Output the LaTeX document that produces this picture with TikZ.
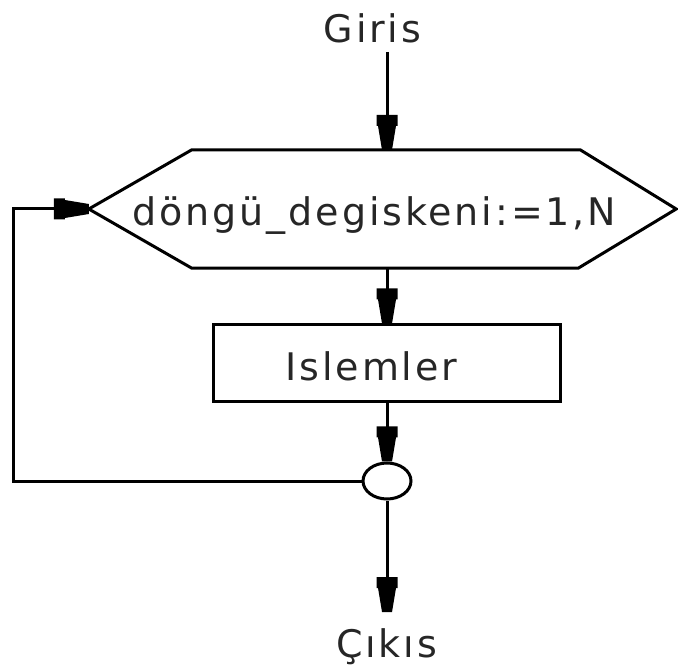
\documentclass[tikz,border=0pt]{standalone}
\usepackage{fontspec}
\setmainfont[LetterSpace=7.6]{DejaVu Sans}
\usetikzlibrary{arrows.meta,shapes.geometric}
\pgfdeclarearrow{
  name = Trap,
  setup code = {
    \pgfarrowssettipend{0pt}
    \pgfarrowssetlineend{-20pt}
    \pgfarrowssetvisualbackend{-35pt}
    \pgfarrowssetbackend{-35pt}
    \pgfarrowshullpoint{0pt}{5pt}
    \pgfarrowshullpoint{0pt}{-5pt}
    \pgfarrowshullpoint{-35pt}{10.5pt}
    \pgfarrowshullpoint{-35pt}{-10.5pt}
  },
  drawing code = {
    \pgfpathmoveto{\pgfqpoint{0pt}{5pt}}
    \pgfpathlineto{\pgfqpoint{-24pt}{9pt}}
    \pgfpathlineto{\pgfqpoint{-24pt}{10.5pt}}
    \pgfpathlineto{\pgfqpoint{-35pt}{10.5pt}}
    \pgfpathlineto{\pgfqpoint{-35pt}{-10.5pt}}
    \pgfpathlineto{\pgfqpoint{-24pt}{-10.5pt}}
    \pgfpathlineto{\pgfqpoint{-24pt}{-9pt}}
    \pgfpathlineto{\pgfqpoint{0pt}{-5pt}}
    \pgfpathclose
    \pgfusepathqfill
  }
}
\begin{document}
\begin{tikzpicture}[x=1pt,y=1pt,
  lbl/.style={font=\fontsize{38}{44}\selectfont, text=black!85, inner sep=0pt, anchor=base},
  line/.style={line width=3pt},
  arr/.style={line, -{Trap}},
  box/.style={draw, line width=3pt, minimum width=347pt, minimum height=77pt, inner sep=0pt},
  conn/.style={draw, ellipse, line width=3pt, minimum width=48pt, minimum height=36pt, inner sep=0pt}]
\useasboundingbox (0,0) rectangle (678,-668);
\node[lbl] (giris) at (372.5,-43) {Giris};
\node[minimum width=587pt, minimum height=118pt, inner sep=0pt] (hex) at (382.5,-209) {};
\draw[line, line join=miter] (hex.west) -- ([xshift=103pt]hex.north west) -- ([xshift=-96pt]hex.north east)
  -- (hex.east) -- ([xshift=-98pt]hex.south east) -- ([xshift=103pt]hex.south west) -- cycle;
\node[lbl] (hextext) at (374.5,-226) {döngü\_degiskeni:=1,N};
\node[box] (islem) at (387,-363.5) {};
\node[lbl] (islemtext) at (371.5,-381) {Islemler};
\node[conn] (conn) at (387,-481) {};
\node[lbl] (cikis) at (386.5,-657) {Çıkıs};
\coordinate (g1) at (387,-52);
\coordinate (c2) at (387,-612);
\coordinate (lp) at (13,-481);
\draw[arr] (g1) -- (g1 |- hex.north);
\draw[arr] (islem.north |- hex.south) -- (islem.north);
\draw[arr] (islem.south) -- (conn.north);
\draw[arr] (conn.south) -- (c2);
\draw[arr] (conn.west) -- (lp) |- (hex.west);
\end{tikzpicture}
\end{document}
